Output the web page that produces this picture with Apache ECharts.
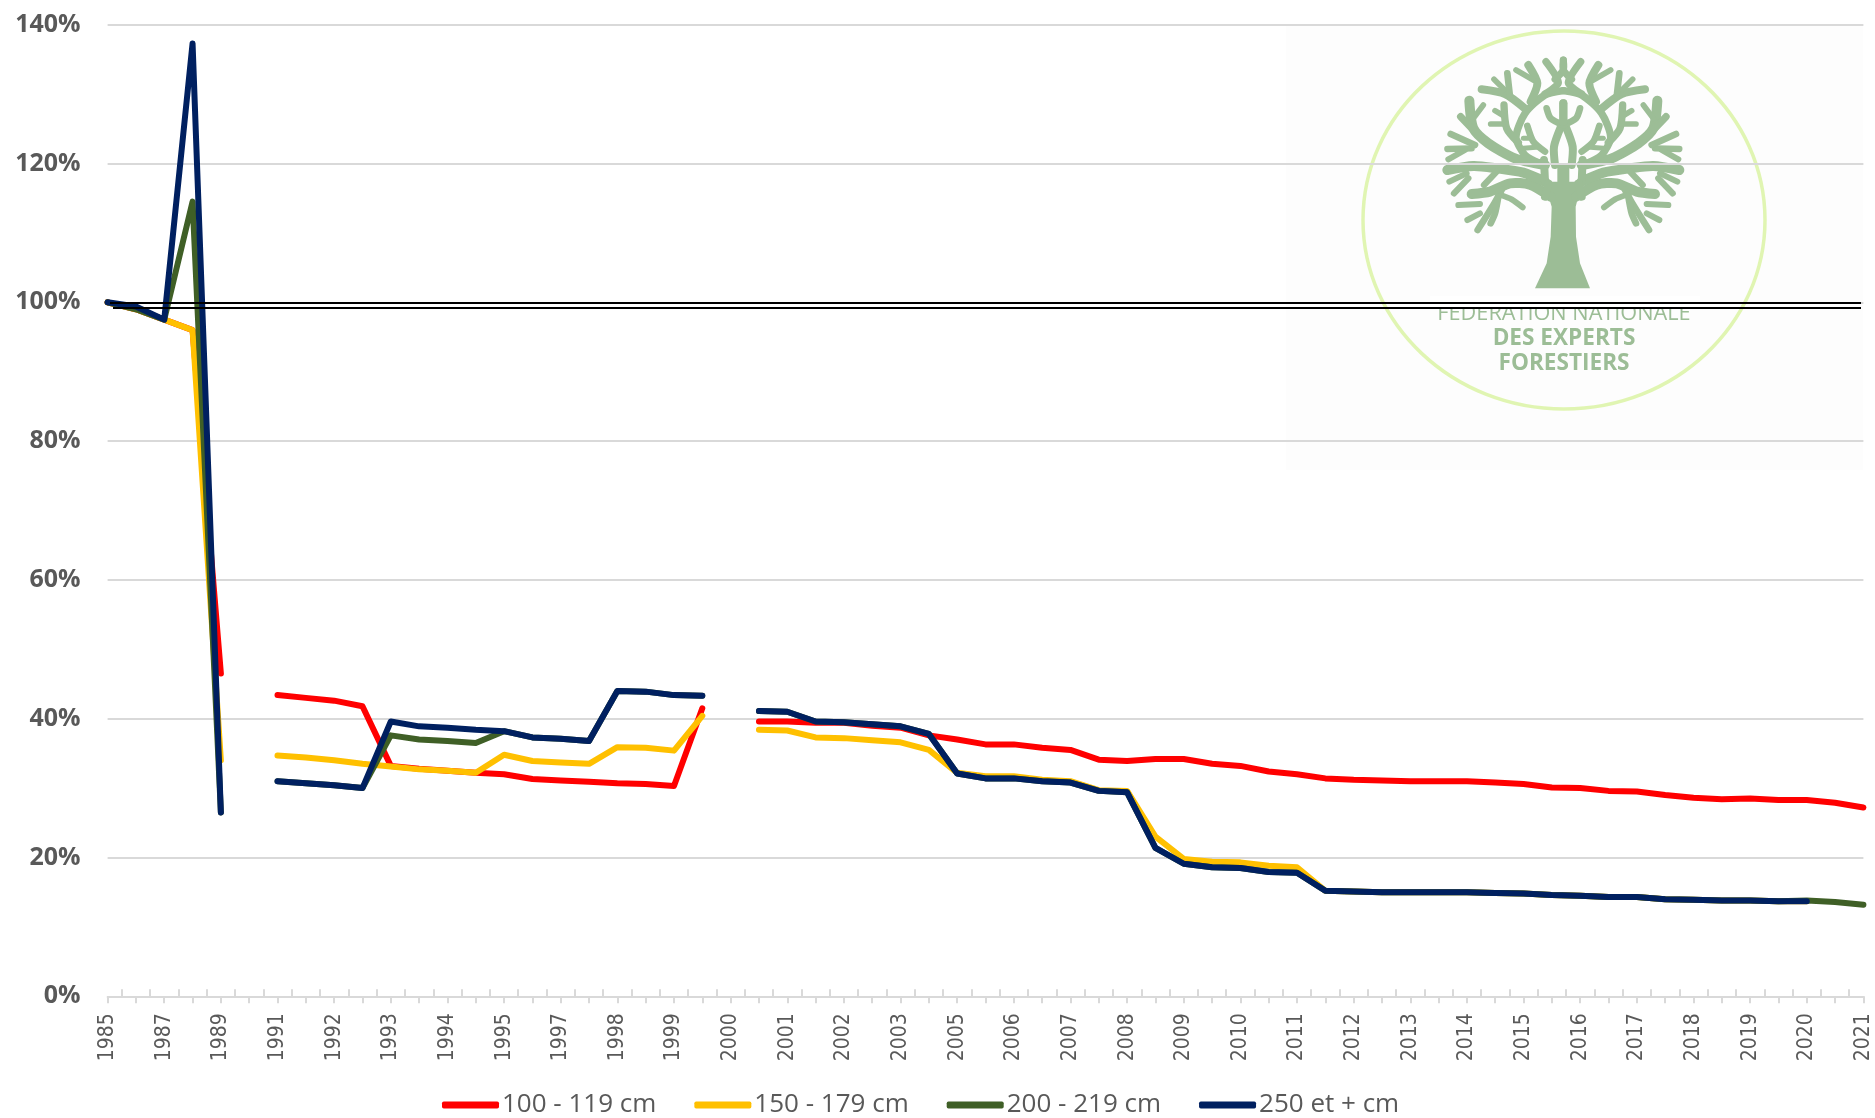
<!DOCTYPE html>
<html>
<head>
<meta charset="utf-8">
<title>Prix par diamètre</title>
<script src="https://cdn.jsdelivr.net/npm/echarts@6/dist/echarts.min.js"></script>
<style>
html, body { margin: 0; padding: 0; background: #fff; }
#main { width: 1875px; height: 1118px; }
</style>
</head>
<body>
<div id="main"></div>
<script>
var yearLabels = ['1985','1987','1989','1991','1992','1993','1994','1995','1997','1998','1999','2000','2001','2002','2003',
  '2005','2006','2007','2008','2009','2010','2011','2012','2013','2014','2015','2016','2017','2018','2019','2020','2021'];
var seriesNames = ['100 - 119 cm', '150 - 179 cm', '200 - 219 cm', '250 et + cm'];
var seriesColors = ['#ff0000', '#ffc000', '#3f5f26', '#002060'];

var s100 = [100,99,97.5,96,46.5,null,43.4,43,42.6,41.8,33.2,32.8,32.5,32.2,32,31.3,31.1,30.9,30.7,30.6,30.3,41.5,null,
  39.6,39.6,39.4,39.4,39,38.7,37.6,37,36.3,36.3,35.8,35.5,34.1,33.9,34.2,34.2,33.5,33.2,32.4,32,31.4,31.2,31.1,31,31,31,30.8,30.6,30.1,30,29.6,29.5,29,28.6,28.4,28.5,28.3,28.3,27.9,27.2];
var s150 = [100,99,97.5,96,34,null,34.7,34.4,34,33.5,33.1,32.7,32.5,32.2,34.8,33.9,33.7,33.5,35.9,35.8,35.4,40.4,null,
  38.4,38.3,37.3,37.2,36.9,36.6,35.5,32.2,31.7,31.7,31.2,31,29.7,29.6,23,19.8,19.4,19.3,18.8,18.6,15.2,15.1,15,15,15,15,14.9,14.8,14.6,14.5,14.3,14.3,14,13.9,13.8,13.8,13.7,13.7,null,null];
var s200 = [100,99,97.5,114.5,26.5,null,31,30.7,30.4,30,37.6,37,36.8,36.5,38.2,37.3,37.1,36.8,44,43.9,43.4,43.3,null,
  41.1,41,39.6,39.5,39.2,38.9,37.8,32.1,31.4,31.4,31,30.8,29.6,29.4,21.4,19.1,18.6,18.5,17.9,17.8,15.2,15.1,15,15,15,15,14.9,14.8,14.6,14.5,14.3,14.3,14,13.9,13.8,13.8,13.7,13.8,13.6,13.2];
var s250 = [100,99.4,97.5,137.3,26.5,null,31,30.7,30.4,30,39.6,38.9,38.7,38.4,38.2,37.3,37.1,36.8,44,43.9,43.4,43.3,null,
  41.1,41,39.6,39.5,39.2,38.9,37.8,32.1,31.4,31.4,31,30.8,29.6,29.4,21.4,19.1,18.6,18.5,17.9,17.8,15.2,15.1,15,15,15,15,14.9,14.8,14.6,14.5,14.3,14.3,14,13.9,13.8,13.8,13.7,13.7,null,null];
var refLines = [100, 99.25];

var categories = [];
yearLabels.forEach(function (y, i) {
  categories.push(y);
  if (i < yearLabels.length - 1) categories.push('');
});
var halfSteps = [];
for (var i = 0; i < categories.length * 2 - 1; i++) halfSteps.push('');

var treeColor = '#9cbd96';
// logo: branches of the left half, in zoom coordinates, mirrored for the right half
var branches = [
  [30, [[362,440],[300,404],[240,400],[180,425],[125,432]]],
  [20, [[215,420],[190,465],[143,540]]],
  [18, [[150,462],[85,465]]],
  [18, [[150,490],[112,510]]],
  [18, [[212,435],[245,448],[278,472]]],
  [20, [[205,440],[195,490],[182,520]]],
  [30, [[345,395],[280,368],[200,355],[130,348],[52,360]]],
  [18, [[110,370],[58,395]]],
  [19, [[115,385],[72,430]]],
  [19, [[200,365],[162,405]]],
  [30, [[345,345],[255,325],[175,280],[130,235],[118,152]]],
  [19, [[125,295],[52,297]]],
  [20, [[135,285],[62,252]]],
  [18, [[105,300],[55,328]]],
  [22, [[130,240],[92,200]]],
  [17, [[130,205],[160,165]]],
  [22, [[340,345],[285,315],[258,262],[285,190],[345,135],[400,122]]],
  [24, [[288,178],[225,132],[155,118]]],
  [20, [[240,140],[232,70]]],
  [17, [[222,118],[192,88]]],
  [24, [[302,155],[322,100],[295,45]]],
  [17, [[310,90],[258,60]]],
  [22, [[345,132],[385,98],[348,35]]],
  [21, [[375,88],[400,60],[400,30]]],
  [22, [[265,278],[230,235],[222,165]]],
  [17, [[228,222],[182,222]]],
  [17, [[222,198],[195,182]]],
  [20, [[345,305],[310,275],[292,228]]],
  [15, [[318,292],[280,295]]],
  [15, [[305,265],[280,265]]],
  [24, [[375,345],[372,290],[392,232]]],
  [20, [[400,225],[362,205],[350,175]]],
  [24, [[400,215],[400,160]]],
  [24, [[345,395],[342,330]]],
  [24, [[355,400],[345,440]]]
];
var trunkPoints = [[315,715],[480,715],[450,640],[438,560],[437,470],[450,420],[465,395],[418,395],[418,340],[382,340],[382,395],[335,395],[350,420],[365,470],[362,560],[350,640]];

function logoElements() {
  var out = [{ type: 'polygon', z: -10, shape: { points: trunkPoints }, style: { fill: treeColor } }];
  branches.forEach(function (b) {
    [false, true].forEach(function (mirror) {
      out.push({
        type: 'polyline', z: -10,
        shape: { points: b[1].map(function (p) { return [mirror ? 800 - p[0] : p[0], p[1]]; }), smooth: 0.25 },
        style: { stroke: treeColor, lineWidth: b[0], lineCap: 'round', lineJoin: 'round', fill: null }
      });
    });
  });
  return out;
}

var myChart = echarts.init(document.getElementById('main'));
var seriesData = [s100, s150, s200, s250];

var option = {
  animation: false,
  backgroundColor: '#ffffff',
  textStyle: { fontFamily: 'Open Sans' },
  grid: { left: 107.6, right: 11.6, top: 24.7, bottom: 121.7, containLabel: false },
  legend: {
    left: 437,
    top: 1087,
    itemWidth: 57,
    itemHeight: 7,
    itemGap: 38,
    icon: 'roundRect',
    data: seriesNames,
    textStyle: { color: '#595959', fontSize: 26, fontFamily: 'Open Sans', padding: [0, 0, 0, -2] }
  },
  xAxis: [
    {
      type: 'category',
      data: categories,
      boundaryGap: false,
      axisLine: { onZero: false, lineStyle: { color: '#d9d9d9', width: 2 } },
      axisTick: { interval: 0, length: 7, lineStyle: { color: '#d9d9d9', width: 2 } },
      axisLabel: { interval: 1, rotate: 90, margin: 17, color: '#595959', fontSize: 21, fontFamily: '"DejaVu Sans Condensed", "DejaVu Sans"', hideOverlap: false },
      splitLine: { show: false }
    },
    {
      type: 'category',
      position: 'bottom',
      data: halfSteps,
      boundaryGap: false,
      axisLine: { show: false, onZero: false },
      axisTick: { inside: true, length: 7, interval: function (idx) { return idx % 2 === 1; }, lineStyle: { color: '#d9d9d9', width: 2 } },
      axisLabel: { show: false },
      splitLine: { show: false }
    }
  ],
  yAxis: {
    type: 'value',
    min: 0,
    max: 140,
    interval: 20,
    axisLine: { show: false },
    axisTick: { show: false },
    axisLabel: { formatter: '{value}%', color: '#595959', fontSize: 25, fontWeight: 'bold', fontFamily: 'Open Sans', margin: 27, padding: [3, 0, 0, 0] },
    splitLine: { lineStyle: { color: '#d9d9d9', width: 2 } }
  },
  graphic: [
    { type: 'rect', z: -20, shape: { x: 1286, y: 25, width: 577, height: 445 }, style: { fill: '#fdfdfd' } },
    { type: 'ellipse', z: -10, shape: { cx: 1564, cy: 220, rx: 201, ry: 189 }, style: { fill: null, stroke: '#e0f5b2', lineWidth: 3.5 } },
    { type: 'group', x: 1430, y: 50, scaleX: 1 / 3, scaleY: 1 / 3, children: logoElements() },
    { type: 'text', z: -10, x: 1564, y: 314, style: { text: 'FEDERATION NATIONALE', font: '21.7px "Open Sans"', fill: '#9cbd96', align: 'center', verticalAlign: 'middle' } },
    { type: 'rect', z: -9, shape: { x: 1430, y: 296, width: 270, height: 12 }, style: { fill: '#ffffff' } },
    { type: 'text', z: -10, x: 1564, y: 339, style: { text: 'DES EXPERTS', font: 'bold 22.6px "Open Sans"', fill: '#9cbd96', align: 'center', verticalAlign: 'middle' } },
    { type: 'text', z: -10, x: 1564, y: 364, style: { text: 'FORESTIERS', font: 'bold 22.6px "Open Sans"', fill: '#9cbd96', align: 'center', verticalAlign: 'middle' } }
  ],
  series: seriesNames.map(function (name, i) {
    var s = {
      name: name,
      type: 'line',
      data: seriesData[i],
      showSymbol: false,
      symbol: 'none',
      connectNulls: false,
      itemStyle: { color: seriesColors[i] },
      lineStyle: { color: seriesColors[i], width: 6, cap: 'round', join: 'round' }
    };
    if (i === seriesNames.length - 1) {
      s.markLine = {
        silent: true,
        z: 20,
        symbol: 'none',
        label: { show: false },
        lineStyle: { color: '#000000', width: 2, type: 'solid' },
        data: [
          [{ x: 110, yAxis: refLines[0] }, { x: 1861, yAxis: refLines[0] }],
          [{ x: 113, yAxis: refLines[1] }, { x: 1861, yAxis: refLines[1] }]
        ]
      };
    }
    return s;
  })
};
myChart.setOption(option);
window.addEventListener('resize', function () { myChart.resize(); });
</script>
</body>
</html>
